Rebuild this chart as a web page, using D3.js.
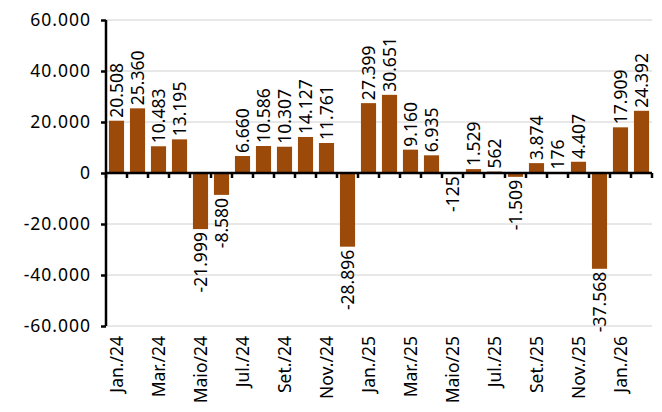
<!DOCTYPE html>
<html><head><meta charset="utf-8">
<script src="https://cdn.jsdelivr.net/npm/d3@7"></script>
<style>body{margin:0;background:#fff}text{font-family:"Noto Sans",sans-serif}</style>
</head><body>
<svg id="c" width="662" height="412"></svg>
<script>
const months = ["Jan./24","Fev./24","Mar./24","Abr./24","Maio/24","Jun./24","Jul./24","Ago./24","Set./24","Out./24","Nov./24","Dez./24",
  "Jan./25","Fev./25","Mar./25","Abr./25","Maio/25","Jun./25","Jul./25","Ago./25","Set./25","Out./25","Nov./25","Dez./25","Jan./26","Fev./26"];
const values = [20508,25360,10483,13195,-21999,-8580,6660,10586,10307,14127,11761,-28896,
  27399,30651,9160,6935,-125,1529,562,-1509,3874,176,4407,-37568,17909,24392];
const yTicks = [-60000,-40000,-20000,0,20000,40000,60000];

const fmt0 = d3.formatLocale({decimal:",",thousands:".",grouping:[3],currency:["",""],minus:"-"}).format(",.0f");
const fmt = d => fmt0(d);
const svg = d3.select("#c");
const x = d3.scaleBand().domain(months).range([106,652]).paddingInner(0.28).paddingOuter(0.14);
const y = d3.scaleLinear().domain([-60000,60000]).range([326,20]);
const col = "#9C4A0A";
const fs = 17.5;

svg.append("g").selectAll("line").data(yTicks.filter(d=>d!==0)).join("line")
  .attr("x1",106).attr("x2",652).attr("y1",d=>y(d)).attr("y2",d=>y(d))
  .attr("stroke","#d0d0d0").attr("stroke-width",1);

svg.append("g").selectAll("rect").data(values).join("rect")
  .attr("x",(d,i)=>x(months[i])).attr("width",x.bandwidth())
  .attr("y",d=>y(Math.max(0,d))).attr("height",d=>Math.abs(y(d)-y(0)))
  .attr("fill",col);

svg.append("g").selectAll("text").data(values).join("text")
  .attr("transform",(d,i)=>`translate(${x(months[i])+x.bandwidth()/2+6},${d>=0?y(d)-3:y(d)+3}) rotate(-90)`)
  .attr("text-anchor",d=>d>=0?"start":"end")
  .attr("font-size",fs).attr("fill","#000")
  .text(d=>fmt(d));

const ya = svg.append("g").attr("transform","translate(106,0)")
  .call(d3.axisLeft(y).tickValues(yTicks).tickSize(5).tickPadding(10).tickFormat(fmt));
ya.select(".domain").attr("stroke-width",2.5).attr("d","M0,20V326");
ya.selectAll(".tick line").attr("stroke-width",2.5);
ya.selectAll("text").attr("font-size",fs).attr("fill","#000").attr("font-family","Noto Sans").attr("letter-spacing",1);

const step = x.step();
const xa = svg.append("g").attr("transform",`translate(0,${y(0)})`);
xa.append("line").attr("x1",106).attr("x2",652).attr("stroke","#000").attr("stroke-width",2.5);
xa.selectAll(".tk").data(d3.range(27)).join("line").attr("class","tk")
  .attr("x1",i=>106+i*step).attr("x2",i=>106+i*step).attr("y1",0).attr("y2",5)
  .attr("stroke","#000").attr("stroke-width",2.5);

svg.append("g").selectAll("text").data(months.filter((m,i)=>i%2===0)).join("text")
  .attr("transform",m=>`translate(${x(m)+x.bandwidth()/2+6},336) rotate(-90)`)
  .attr("text-anchor","end").attr("font-size",fs).attr("fill","#000")
  .text(m=>m);
</script>
</body></html>
